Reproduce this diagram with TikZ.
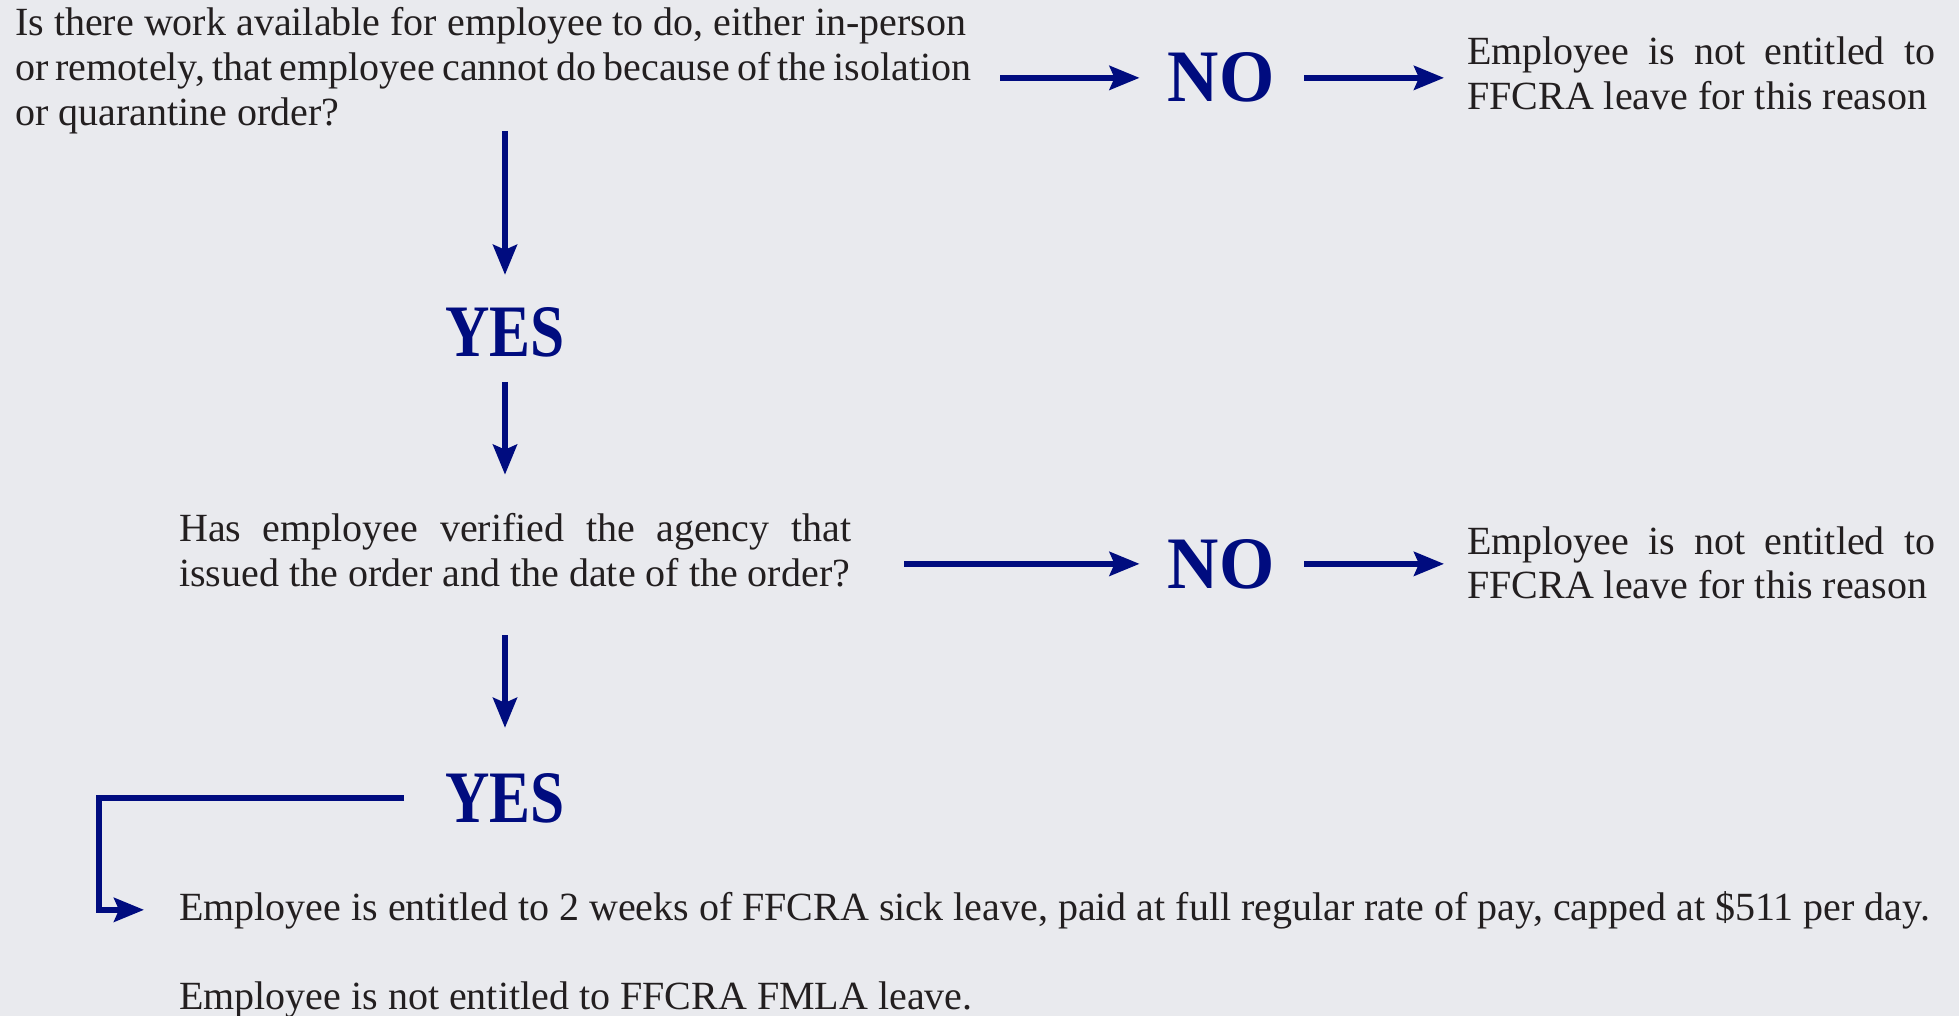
\documentclass[tikz,border=0pt]{standalone}
\usepackage{fontspec}
\setmainfont{Liberation Serif}
\newfontfamily\yesfont[FakeStretch=0.83]{Liberation Serif}
\newfontfamily\nofont[FakeStretch=0.96]{Liberation Serif}
\usetikzlibrary{arrows.meta,calc}
\definecolor{bg}{HTML}{E9EAEE}
\definecolor{navy}{HTML}{000C7F}
\definecolor{ink}{HTML}{231F20}
\begin{document}
\begin{tikzpicture}[x=1pt,y=-1pt,
  txt/.style={anchor=base west, inner sep=0pt, text=ink, font=\fontsize{40}{45}\selectfont},
  yeslbl/.style={anchor=base, inner sep=0pt, text=navy, font=\yesfont\bfseries\fontsize{74}{80}\selectfont},
  nolbl/.style={anchor=base, inner sep=0pt, text=navy, font=\nofont\bfseries\fontsize{74}{80}\selectfont},
  arr/.style={draw=navy, line width=5.5pt, line join=miter,
    -{Stealth[length=30pt,width=24pt,inset=5pt]}}]
\fill[bg] (0,0) rectangle (1959,1016);
\useasboundingbox (0,0) rectangle (1959,1016);
% question 1
\node[txt] (q1a) at (15,36) {Is there work available for employee to do, either in-person};
\node[txt] (q1b) at (15,81) {\spaceskip=0.18em\relax or remotely, that employee\ cannot do because of the isolation};
\node[txt] (q1c) at (15,126) {or quarantine order?};
\node[nolbl] (no1) at (1221,102) {NO};
\node[txt] (r1a) at (1467,65) {\makebox[468pt][s]{Employee is not entitled to}};
\node[txt] (r1b) at (1467,110) {FFCRA leave for this reason};
\node[yeslbl] (yes1) at (505,356) {YES};
% question 2
\node[txt] (q2a) at (179,541) {\makebox[672pt][s]{Has employee verified the agency that}};
\node[txt] (q2b) at (179,586) {issued the order and the date of the order?};
\node[nolbl] (no2) at (1221,588) {NO};
\node[txt] (r2a) at (1467,554) {\makebox[468pt][s]{Employee is not entitled to}};
\node[txt] (r2b) at (1467,598) {FFCRA leave for this reason};
\node[yeslbl] (yes2) at (505,822) {YES};
% result
\node[txt] (b1) at (179,920) {Employee is entitled to 2 weeks of FFCRA sick leave, paid at full regular rate of pay, capped at \$511 per day.};
\node[txt] (b2) at (179,1009) {Employee is not entitled to FFCRA FMLA leave.};
% connectors
\draw[arr, shorten >=28pt] (1000,0 |- no1.west) -- (no1.west);
\draw[arr, shorten <=30pt, shorten >=23pt] (no1.east) -- (r1a.west |- no1.east);
\draw[arr, shorten <=5pt, shorten >=32pt] (yes1.north |- q1c.base) -- (yes1.north);
\draw[arr, shorten <=25pt, shorten >=38pt] (yes1.south) -- (yes1.south |- q2a.north);
\draw[arr, shorten >=28pt] (904,0 |- no2.west) -- (no2.west);
\draw[arr, shorten <=30pt, shorten >=23pt] (no2.east) -- (r2a.west |- no2.east);
\draw[arr, shorten <=49pt, shorten >=45pt] (yes1.south |- q2b.base) -- (yes2.north);
\draw[arr, shorten <=41pt, shorten >=35pt] (yes2.west) -| (99,0 |- b1.west) -- (b1.west);
\end{tikzpicture}
\end{document}
